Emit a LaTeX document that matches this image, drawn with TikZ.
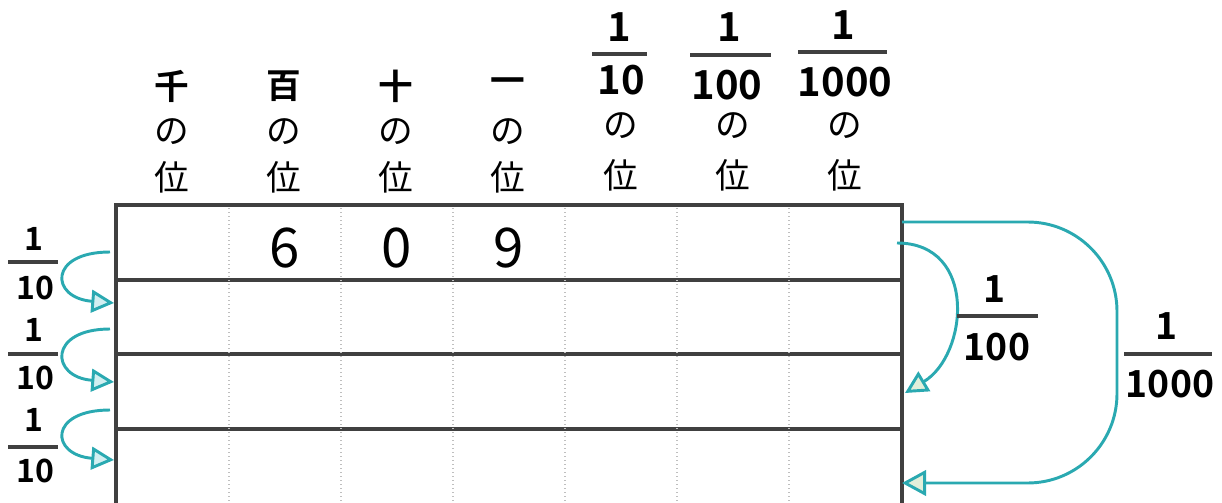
\documentclass[tikz,border=0pt]{standalone}
\usepackage{fontspec}
\setmainfont{Noto Sans CJK JP}[BoldFont={Noto Sans CJK JP Bold}]
\usepackage{xcolor}
\usepackage{tikz}
\usetikzlibrary{arrows.meta}
\definecolor{shiftteal}{HTML}{2AA9B1}
\definecolor{tipcyan}{HTML}{D2EFF1}
\definecolor{tipgreen}{HTML}{E3EFDA}
\definecolor{gridgray}{HTML}{404040}

\begin{document}
\begin{tikzpicture}[x=0.75pt,y=-0.75pt,
    every node/.style={inner sep=0pt},
    placename/.style={font=\fontsize{26}{26}\selectfont},
    placehead/.style={font=\fontsize{26}{26}\selectfont\bfseries},
    headfrac/.style={font=\fontsize{30}{30}\selectfont\bfseries},
    celldigit/.style={font=\fontsize{41}{41}\selectfont},
    sidefrac/.style={font=\fontsize{24}{24}\selectfont\bfseries},
    rightfrac/.style={font=\fontsize{28}{28}\selectfont\bfseries},
    fracbar/.style={gridgray,line width=3pt},
    tableline/.style={gridgray,line width=2.6pt},
    colsep/.style={black!25,dotted,line width=1pt},
    shiftarrow/.style={shiftteal,line width=2.2pt,-{Triangle[length=17pt,width=17pt,fill=tipcyan]}},
    bigshift/.style={shiftteal,line width=2.2pt,-{Triangle[length=18pt,width=19pt,fill=tipgreen]}},
]
\useasboundingbox (0,0) rectangle (1222,503);

\draw[tableline] (116,503) -- (116,205) -- (902,205) -- (902,503);
\foreach \y in {280,354,429} \draw[tableline] (116,\y) -- (902,\y);
\foreach \x in {229,341,453,565,677,789} \draw[colsep] (\x,208) -- (\x,503);

\node[placehead] (k1) at (172,86) {千};
\node[placehead] (k2) at (284,86) {百};
\node[placehead] (k3) at (396,86) {十};
\node[placehead] (k4) at (508,86) {一};
\foreach \x [count=\i] in {172,284,396,508} {
  \node[placename] (no\i) at (\x,132) {の};
  \node[placename] (pl\i) at (\x,177) {位};
}

\node[headfrac] (nume5) at (619,27) {1};
\node[headfrac] (deno5) at (621,80) {10};
\node[headfrac] (nume6) at (729,27) {1};
\node[headfrac] (deno6) at (727,85) {100};
\node[headfrac] (nume7) at (843,25) {1};
\node[headfrac] (deno7) at (845,82) {1000};
\draw[fracbar] (592,54) -- (647,54);
\draw[fracbar] (690,55) -- (771,55);
\draw[fracbar] (798,52) -- (887,52);
\foreach \x [count=\i from 5] in {621,733,845} {
  \node[placename] (no\i) at (\x,126) {の};
  \node[placename] (pl\i) at (\x,175) {位};
}

\node[celldigit] (hund) at (285,248) {6};
\node[celldigit] (tens) at (397,248) {0};
\node[celldigit] (ones) at (509,248) {9};

\foreach \a/\b/\c [count=\i] in {239/262/288,330/354/378,420/447/471} {
  \node[sidefrac] (lnum\i) at (34,\a) {1};
  \node[sidefrac] (lden\i) at (35,\c) {10};
  \draw[fracbar] (8,\b) -- (58,\b);
}

\coordinate (l1s) at (110,252);
\coordinate (l1e) at (114,303);
\coordinate (l2s) at (110,329);
\coordinate (l2e) at (114,382);
\coordinate (l3s) at (110,410);
\coordinate (l3e) at (114,460);
\draw[shiftarrow] (l1s) .. controls (48,252) and (50,298) .. (l1e);
\draw[shiftarrow] (l2s) .. controls (48,329) and (50,377) .. (l2e);
\draw[shiftarrow] (l3s) .. controls (48,410) and (50,455) .. (l3e);

\coordinate (hs) at (897,243);
\coordinate (he) at (905,393);
\coordinate (ts) at (902,222);
\coordinate (te) at (902,483);
\draw[shiftarrow,-{Triangle[length=17pt,width=17pt,fill=tipgreen]}] (hs) .. controls (978,243) and (968,355) .. (he);
\draw[bigshift,rounded corners=67pt] (ts) -- (1117,222) -- (1117,483) -- (te);

\node[rightfrac] (rnum1) at (995,289) {1};
\node[rightfrac] (rden1) at (997,347) {100};
\draw[fracbar] (957,316) -- (1038,316);
\node[rightfrac] (rnum2) at (1167,326) {1};
\node[rightfrac] (rden2) at (1170,384) {1000};
\draw[fracbar] (1124,354) -- (1212,354);
\end{tikzpicture}
\end{document}
